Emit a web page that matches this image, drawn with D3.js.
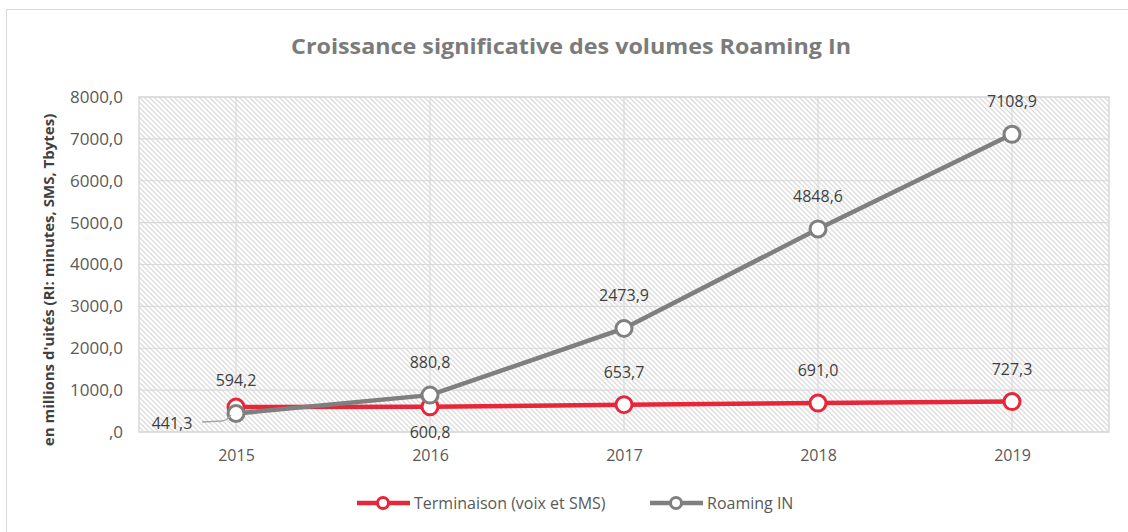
<!DOCTYPE html>
<html>
<head>
<meta charset="utf-8">
<script src="https://cdn.jsdelivr.net/npm/d3@7"></script>
<style>
  body { margin: 0; background: #fff; }
  svg { font-family: "Open Sans", sans-serif; }
</style>
</head>
<body>
<svg id="chart" width="1128" height="532"></svg>
<script>
// data
const years = ["2015", "2016", "2017", "2018", "2019"];
const terminaison = [594.2, 600.8, 653.7, 691.0, 727.3];
const roaming = [441.3, 880.8, 2473.9, 4848.6, 7108.9];
const yTicks = [0, 1000, 2000, 3000, 4000, 5000, 6000, 7000, 8000];

const margin = { top: 97, right: 19, bottom: 100, left: 139 };
const width = 1128 - margin.left - margin.right;
const height = 532 - margin.top - margin.bottom;

const svg = d3.select("#chart");
const fmt = v => v === 0 ? ",0" : d3.format(".1f")(v).replace(".", ",");

// chart border
svg.append("rect")
  .attr("x", 6.5).attr("y", 9.5)
  .attr("width", 1130).attr("height", 530)
  .attr("fill", "#fff")
  .attr("stroke", "#d9d9d9");

// hatch pattern
const pat = svg.append("defs").append("pattern")
  .attr("id", "hatch")
  .attr("patternUnits", "userSpaceOnUse")
  .attr("width", 5).attr("height", 5);
pat.append("path")
  .attr("d", "M-1,-1 L6,6 M-1,4 L1,6 M4,-1 L6,1")
  .attr("stroke", "#dcdcdc")
  .attr("stroke-width", 1.3);

// title (slightly stretched like the original)
svg.append("text")
  .attr("transform", "translate(571,54) scale(1.11,1)")
  .attr("text-anchor", "middle")
  .style("font-size", "21px")
  .style("font-weight", "bold")
  .attr("fill", "#7b7b7b")
  .text("Croissance significative des volumes Roaming In");

const g = svg.append("g")
  .attr("transform", "translate(" + margin.left + "," + margin.top + ")");

const x = d3.scalePoint().domain(years).range([0, width]).padding(0.5);
const y = d3.scaleLinear().domain([0, 8000]).range([height, 0]);

g.append("rect")
  .attr("width", width).attr("height", height)
  .attr("fill", "url(#hatch)");

// gridlines
g.selectAll(".hgrid").data(yTicks).enter().append("line")
  .attr("x1", 0).attr("x2", width)
  .attr("y1", d => y(d)).attr("y2", d => y(d))
  .attr("stroke", "#d9d9d9").attr("stroke-width", 1.2);
g.selectAll(".vgrid").data(years).enter().append("line")
  .attr("x1", d => x(d)).attr("x2", d => x(d))
  .attr("y1", 0).attr("y2", height)
  .attr("stroke", "#d9d9d9").attr("stroke-width", 1.2);
g.append("rect")
  .attr("width", width).attr("height", height)
  .attr("fill", "none").attr("stroke", "#d9d9d9").attr("stroke-width", 1.5);

// axes
const yAxis = g.append("g")
  .call(d3.axisLeft(y).tickValues(yTicks).tickFormat(fmt).tickSize(0).tickPadding(16));
yAxis.select(".domain").remove();
yAxis.selectAll("text").style("font-size", "17px").attr("fill", "#595959").style("font-family", "'Open Sans', sans-serif");

const xAxis = g.append("g")
  .attr("transform", "translate(0," + height + ")")
  .call(d3.axisBottom(x).tickSize(0).tickPadding(18));
xAxis.select(".domain").remove();
xAxis.selectAll("text").style("font-size", "16px").attr("fill", "#595959").style("font-family", "'Open Sans', sans-serif");

// y axis title
svg.append("text")
  .attr("transform", "translate(54,280) rotate(-90)")
  .attr("text-anchor", "middle")
  .style("font-size", "15px")
  .style("font-weight", "bold")
  .attr("fill", "#404040")
  .text("en millions d'uités (RI: minutes, SMS, Tbytes)");

const red = "#e8263a", grey = "#7f7f7f";
const line = d3.line().x((d, i) => x(years[i])).y(d => y(d));

function drawSeries(values, color) {
  g.append("path").datum(values)
    .attr("d", line)
    .attr("fill", "none").attr("stroke", color).attr("stroke-width", 4.5);
  g.selectAll(null).data(values).enter().append("circle")
    .attr("cx", (d, i) => x(years[i])).attr("cy", d => y(d))
    .attr("r", 8)
    .attr("fill", "#fff").attr("stroke", color).attr("stroke-width", 3);
}
drawSeries(terminaison, red);
drawSeries(roaming, grey);

// data labels
const labelStyle = s => s.style("font-size", "16px").attr("fill", "#404040").attr("text-anchor", "middle");
terminaison.forEach((v, i) => {
  const below = i === 1;
  g.append("text").call(labelStyle)
    .attr("x", x(years[i]))
    .attr("y", below ? y(v) + 31 : y(v) - 21 - (i === 0 ? 0 : 6))
    .text(fmt(v));
});
roaming.forEach((v, i) => {
  const cx = x(years[i]), cy = y(v);
  if (i === 0) {
    g.append("text").call(labelStyle)
      .attr("x", cx - 64).attr("y", cy + 15)
      .text(fmt(v));
    g.append("path")
      .attr("d", "M" + (cx - 34) + "," + (cy + 8.5) +
        " L" + (cx - 14) + "," + (cy + 7.5) +
        " Q" + (cx - 8) + "," + (cy + 6.5) + " " + (cx - 5) + "," + (cy + 1.5))
      .attr("fill", "none").attr("stroke", "#a6a6a6").attr("stroke-width", 1.3);
  } else {
    g.append("text").call(labelStyle)
      .attr("x", cx).attr("y", cy - 27)
      .text(fmt(v));
  }
});

// legend
const legend = svg.append("g").attr("transform", "translate(0,503)");
[["Terminaison (voix et SMS)", red, 357], ["Roaming IN", grey, 650]].forEach(([name, color, lx]) => {
  legend.append("line").attr("x1", lx).attr("x2", lx + 53)
    .attr("stroke", color).attr("stroke-width", 4.5);
  legend.append("circle").attr("cx", lx + 26).attr("r", 5.5)
    .attr("fill", "#fff").attr("stroke", color).attr("stroke-width", 3);
  legend.append("text").attr("x", lx + 57).attr("y", 5.5)
    .style("font-size", "16px").attr("fill", "#595959")
    .text(name);
});
</script>
</body>
</html>
